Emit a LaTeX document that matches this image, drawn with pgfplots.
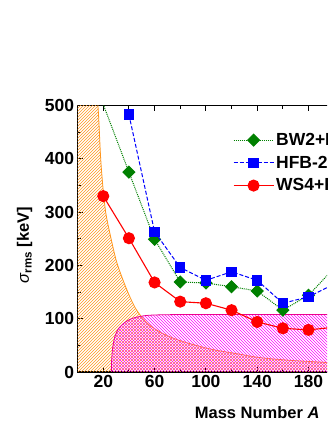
\documentclass[border=0pt]{standalone}
\usepackage{fontspec}
\setmainfont{Liberation Sans}
\usepackage{pgfplots}
\pgfplotsset{compat=1.18}
\usepackage{pgfplotstable}
\usetikzlibrary{patterns}

\definecolor{myorange}{RGB}{255,150,30}
\definecolor{mygreen}{RGB}{0,128,0}

% upper edge of the orange hatched band
\pgfplotstableread{
A   val
0   620
8   610
13  580
16  495
18  400
20  340
22  298
25  262
30  210
35  175
40  145
45  120
50  103
56  88
65  74
75  63
85  55
100 45
110 40
125 34
142 27
165 22
186 19
210 16
240 14
280 11
}\orangeband

% upper edge of the magenta hatched band
\pgfplotstableread{
A    val
26.3 0
26.5 20
27.3 45
29   66
31.5 80
34.4 88
38   95
42   100
48   104
56   106.5
70   107.5
100  108
280  108
}\magentaband

\begin{document}
\begin{tikzpicture}
\useasboundingbox (0,0) rectangle (327pt,423pt);
\clip (0,0) rectangle (327pt,423pt);
\begin{axis}[
    at={(77.6pt,51pt)}, anchor=south west,
    scale only axis, width=359.2pt, height=266.5pt,
    xmin=0, xmax=280, ymin=0, ymax=500,
    xtick={20,60,...,260}, minor x tick num=1,
    ytick={0,100,...,500}, minor y tick num=1,
    tick align=inside,
    major tick length=5pt, minor tick length=3pt,
    every tick/.style={black, line width=0.9pt},
    axis line style={line width=1.3pt},
    /pgf/number format/assume math mode=true,
    tick label style={font=\fontsize{17.5}{17.5}\selectfont\bfseries},
    xlabel={Mass Number \textit{A}},
    ylabel={{\mdseries\itshape σ}\textsubscript{rms} [keV]},
    every axis x label/.style={at={(rel axis cs:0.5,-0.1737)}, anchor=base,
        font=\fontsize{16.5}{16.5}\selectfont\bfseries},
    every axis y label/.style={at={(rel axis cs:-0.1353,0.4765)}, rotate=90, anchor=base,
        font=\fontsize{16.5}{16.5}\selectfont\bfseries},
    clip marker paths=true,
    legend style={at={(axis cs:121,452)}, anchor=north west, draw=none, fill=none,
        font=\fontsize{17.5}{17.5}\selectfont\bfseries, row sep=5pt, inner sep=0pt},
    legend cell align=left,
    legend image code/.code={\draw[mark repeat=2, mark phase=2, #1]
        plot coordinates {(0pt,0pt) (20pt,0pt) (40pt,0pt)};},
]
% hatched bands
\addplot[draw=none, pattern=north east lines, pattern color=myorange, smooth, forget plot]
    table[x=A, y=val] {\orangeband} \closedcycle;
\addplot[myorange, line width=0.8pt, smooth, forget plot] table[x=A, y=val] {\orangeband};
\addplot[draw=none, pattern=north west lines, pattern color=magenta, smooth, forget plot]
    table[x=A, y=val] {\magentaband} \closedcycle;
\addplot[magenta, line width=0.8pt, smooth, forget plot] table[x=A, y=val] {\magentaband};

\addplot[mygreen, densely dotted, line width=1pt, mark=square*, mark size=4.2pt,
    mark options={solid, rotate=45, fill=mygreen}]
coordinates {
    (20,502) (40,375) (60,249) (80,169) (100,167) (120,160) (140,152) (160,116) (180,144) (200,195)
};
\addlegendentry{BW2+RBF}

\addplot[blue, dash pattern=on 4pt off 2pt, line width=1pt, mark=square*, mark size=4.7pt,
    mark options={solid, fill=blue}]
coordinates {
    (40,483) (60,263) (80,196) (100,172) (120,188) (140,172) (160,129) (180,141) (200,165)
};
\addlegendentry{HFB-27+RBF}

\addplot[red, solid, line width=1.1pt, mark=*, mark size=5.5pt,
    mark options={solid, fill=red}]
coordinates {
    (20,330) (40,251) (60,168) (80,132) (100,129) (120,116) (140,94) (160,82) (180,79) (200,84)
};
\addlegendentry{WS4+RBF}
\end{axis}
\end{tikzpicture}
\end{document}
